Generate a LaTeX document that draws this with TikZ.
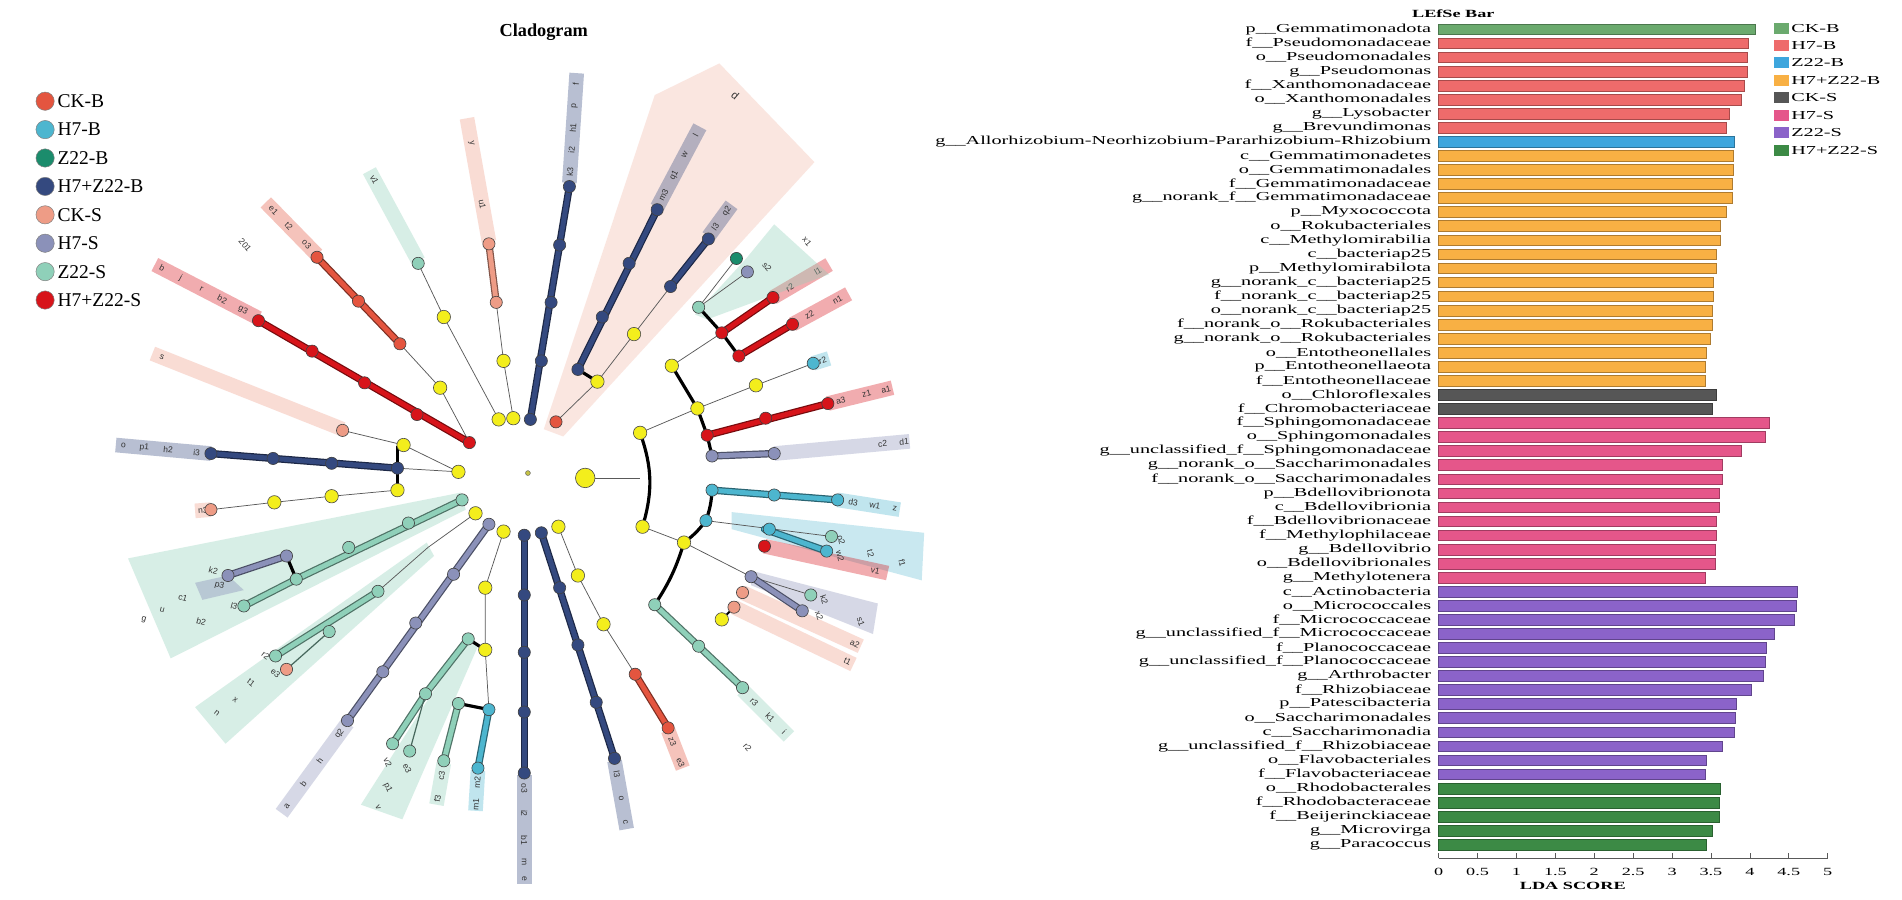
\documentclass[tikz,border=0pt]{standalone}
\usepackage{fontspec}
\setmainfont{Liberation Serif}
\newfontfamily\labf{Liberation Sans}
\definecolor{CKB}{HTML}{E4553F}
\definecolor{H7B}{HTML}{4DB6CF}
\definecolor{ZB}{HTML}{1B8C6C}
\definecolor{HZB}{HTML}{34497F}
\definecolor{CKS}{HTML}{EE9C86}
\definecolor{H7S}{HTML}{8B91B9}
\definecolor{ZS}{HTML}{8FD0B9}
\definecolor{HZS}{HTML}{D7141A}
\definecolor{yel}{HTML}{F3EE1C}
\definecolor{bCKB}{HTML}{6BAA6E}
\definecolor{bH7B}{HTML}{EE6B6B}
\definecolor{bZB}{HTML}{3EA6DD}
\definecolor{bHZB}{HTML}{F8B044}
\definecolor{bCKS}{HTML}{565656}
\definecolor{bH7S}{HTML}{E5568A}
\definecolor{bZS}{HTML}{8B63C9}
\definecolor{bHZS}{HTML}{3C8A45}
\tikzset{
 cnode/.style={circle,draw=black!75,line width=0.5pt,inner sep=0pt,minimum size=10pt},
 ynode/.style={circle,draw=black!70,line width=0.5pt,fill=yel,inner sep=0pt,minimum size=#1},
 ynode/.default=11pt,
 thinl/.style={draw=gray!70!black,line width=0.6pt},
 blk/.style={draw=black,line width=2.6pt},
 lab/.style={font=\labf\fontsize{7}{7}\selectfont,inner sep=0pt,text=black!80},
 blab/.style={anchor=east,font=\fontsize{10}{10}\selectfont,inner sep=0pt},
}
\newcommand\sx[1]{\scalebox{1.66}[1]{#1}}
\newcommand\brc[2]{\draw[line width=6pt,#1!55!black,line cap=round] #2; \draw[line width=4pt,#1,line cap=round] #2;}
\newcommand\cn[2]{\foreach \p in {#2} \node[cnode,fill=#1] at \p {};}
\newcommand\yn[1]{\foreach \p in {#1} \node[ynode] at \p {};}
\newcommand\band[4]{\draw[line width=12pt,#1,opacity=.35] #2 -- #3;
 \foreach \q/\t in {#4} \path #2 -- #3 node[pos=\q,sloped,lab]{\t};}
\begin{document}
\begin{tikzpicture}[x=1pt,y=-1pt]
\useasboundingbox (0,0) rectangle (1560,738);
\fill[white] (0,0) rectangle (1560,738);
%================ CLADOGRAM =================
\node[font=\bfseries\fontsize{15}{15}\selectfont] at (446,26) {Cladogram};
% legend
\foreach \c/\t [count=\i from 0] in {CKB/CK-B,H7B/H7-B,ZB/Z22-B,HZB/H7+Z22-B,CKS/CK-S,H7S/H7-S,ZS/Z22-S,HZS/H7+Z22-S}{
 \node[circle,draw=black!50,fill=\c,inner sep=0pt,minimum size=15pt] at (37,83+23.3*\i) {};
 \node[anchor=west,font=\fontsize{16}{16}\selectfont,inner sep=0pt] at (47,83+23.3*\i) {\t};
}
% pink sector d
\fill[CKS,opacity=.25] (446,352) -- (537,78) -- (590,52) -- (668,133) -- (462,358) -- cycle;
\node[lab,font=\labf\fontsize{9}{9}\selectfont,rotate=-40] at (603,78) {d};
% bands
\band{HZB}{(467,150)}{(473,60)}{0.1/k3,0.3/i2,0.5/h1,0.7/p,0.9/f}
\band{HZB}{(539,170)}{(574,104)}{0.15/m3,0.4/q1,0.65/w,0.9/l}
\band{HZB}{(581,194)}{(600,168)}{0.3/l3,0.8/q2}
\band{CKS}{(401,198)}{(383,97)}{0.3/u1,0.8/y}
\band{ZS}{(343,214)}{(303,140)}{0.9/v1}
\band{CKB}{(260,209)}{(218,166)}{0.2/o3,0.55/t2,0.85/e1}
\band{HZS}{(212,261)}{(127,217)}{0.15/g3,0.35/b2,0.55/r,0.75/j,0.93/b}
\band{CKS}{(281,352)}{(125,290)}{0.95/s}
\band{HZB}{(173,372)}{(95,365)}{0.15/i3,0.45/h2,0.7/p1,0.92/o}
\band{CKS}{(173,418)}{(160,419)}{0.5/n3}
\fill[ZS,opacity=.35] (378,404) -- (105,458) -- (140,540) -- (382,418) -- cycle;
\fill[ZS,opacity=.35] (350,445) -- (160,580) -- (185,610) -- (356,456) -- cycle;
\fill[H7S,opacity=.4] (187,472) -- (160,478) -- (166,492) -- (200,484) -- cycle;
\foreach \t/\x/\y in {k2/175/468,p3/180/480,l3/192/497,b2/165/510,c1/150/490,u/133/500,g/118/508}{\node[lab,rotate=-15] at (\x,\y) {\t};}
\foreach \t/\x/\y in {r2/218/538,e3/226/552,t1/206/560,x/193/574,n/178/585}{\node[lab,rotate=-38] at (\x,\y) {\t};}
\band{H7S}{(285,593)}{(231,667)}{0.12/q2,0.42/h,0.67/b,0.92/a}
\fill[ZS,opacity=.35] (384,522) -- (296,660) -- (330,672) -- (392,530) -- cycle;
\foreach \t/\x/\y in {v2/318/625,e3/334/630,p1/318/646,v/310/662}{\node[lab,rotate=-65] at (\x,\y) {\t};}
\band{ZS}{(364,626)}{(358,660)}{0.3/c3,0.85/f3}
\band{H7B}{(392,632)}{(390,665)}{0.3/m2,0.85/m1}
\band{HZB}{(430,636)}{(430,725)}{0.12/o3,0.35/i2,0.6/b1,0.8/m,0.95/e}
\band{HZB}{(504,624)}{(514,680)}{0.2/l3,0.55/o,0.9/c}
\band{CKB}{(548,599)}{(560,630)}{0.3/z3,0.85/e3}
\band{ZS}{(609,566)}{(647,604)}{0.25/r3,0.6/k1,0.9/i}
\band{H7B}{(687,410)}{(738,418)}{0.25/d3,0.6/w1,0.92/z}
\fill[H7B,opacity=.3] (600,420) -- (758,437) -- (756,476) -- (600,434) -- cycle;
\band{HZS}{(627,448)}{(728,470)}{0.9/v1}
\foreach \t/\x/\y in {o2/690/443,w2/689/456,t2/714/454,f1/740/462}{\node[lab,rotate=-75] at (\x,\y) {\t};}
\fill[H7S,opacity=.35] (616,468) -- (720,495) -- (716,520) -- (616,480) -- cycle;
\band{CKS}{(609,486)}{(706,530)}{0.95/a2}
\band{CKS}{(602,498)}{(700,545)}{0.95/t1}
\foreach \t/\x/\y in {k2/676/492,x2/672/505,s1/706/510}{\node[lab,rotate=-70] at (\x,\y) {\t};}
\band{H7S}{(635,372)}{(746,362)}{0.8/c2,0.96/d1}
\band{HZS}{(679,331)}{(732,318)}{0.2/a3,0.6/z1,0.9/a1}
\band{H7B}{(667,298)}{(680,294)}{0.6/r2}
\band{HZS}{(634,244)}{(680,217)}{0.3/r2,0.8/l1}
\band{HZS}{(650,266)}{(696,241)}{0.3/z2,0.8/n1}
\fill[ZS,opacity=.35] (570,258) -- (612,212) -- (635,184) -- (680,225) -- (580,262) -- cycle;
\foreach \t/\x/\y in {r2/613,201,s2/629/219,x1/662/198}{\node[lab,rotate=-50] at (\x,\y) {\t};}
% thin lines
\draw[thinl] (456,346) -- (490,313) -- (520,274) -- (550,235);
\draw[thinl] (421,343) -- (413,296) -- (407,248);
\draw[thinl] (409,344) -- (364,260) -- (343,216);
\draw[thinl] (385,363) -- (361,318) -- (328,282);
\draw[thinl] (376,387) -- (331,365) -- (281,353);
\draw[thinl] (376,387) -- (326,384);
\draw[thinl] (326,402) -- (272,407) -- (225,412) -- (173,418);
\draw[thinl] (390,421) -- (351,449);
\draw[thinl] (413,436) -- (398,482) -- (398,533) -- (401,582);
\draw[thinl] (458,432) -- (474,472) -- (495,512) -- (521,553);
\draw[thinl] (480,392) -- (525,392);
\draw[thinl] (525,355) -- (572,335) -- (620,316) -- (667,298);
\draw[thinl] (551,300) -- (592,273);
\draw[thinl] (527,432) -- (561,445) -- (616,473);
\draw[thinl] (579,427) -- (682,440);
\draw[thinl] (616,473) -- (665,488);
\draw[thinl] (573,252) -- (604,212);
\draw[thinl] (573,252) -- (613,223);
\draw[thinl] (351,449) -- (310,485);
% black thick connectors
\draw[blk] (474,303) -- (490,313);
\draw[blk] (525,355) to[bend left=18] (527,432);
\draw[blk] (551,300) -- (572,335) -- (580,357) -- (584,374);
\draw[blk] (573,252) -- (592,273) -- (606,292);
\draw[blk] (584,402) to[bend left=8] (579,427) to[bend left=8] (561,445) to[bend left=8] (537,496);
\draw[blk] (326,366) -- (326,402);
\draw[blk] (235,456) -- (243,475);
\draw[blk] (398,533) -- (384,524);
\draw[blk] (376,577) -- (401,582);
\draw[blk,line width=1.6pt] (602,498) -- (592,508);
% coloured branches
\brc{HZB}{(435,344)--(467,153)} \cn{HZB}{(435,344),(444,296),(452,248),(459,201),(467,153)}
\brc{HZB}{(474,303)--(539,172)} \cn{HZB}{(474,303),(494,260),(516,216),(539,172)}
\brc{HZB}{(550,235)--(581,196)} \cn{HZB}{(550,235),(581,196)}
\cn{CKB}{(456,346)}
\brc{CKS}{(407,248)--(401,200)} \cn{CKS}{(407,248),(401,200)}
\cn{ZS}{(343,216)}
\brc{CKB}{(328,282)--(260,211)} \cn{CKB}{(328,282),(294,247),(260,211)}
\brc{HZS}{(385,363)--(212,263)} \cn{HZS}{(385,363),(342,340),(299,314),(256,288),(212,263)}
\cn{CKS}{(281,353)}
\brc{HZB}{(326,384)--(173,372)} \cn{HZB}{(326,384),(272,380),(224,376),(173,372)}
\cn{CKS}{(173,418)}
\brc{ZS}{(379,410)--(243,475)} \brc{ZS}{(243,475)--(200,497)} \cn{ZS}{(379,410),(335,429),(286,449),(243,475),(200,497)}
\brc{H7S}{(235,456)--(187,472)} \cn{H7S}{(235,456),(187,472)}
\brc{ZS}{(310,485)--(226,538)} \draw[ZS!50!black,line width=1pt] (270,518) -- (235,549);
\cn{ZS}{(310,485),(270,518),(226,538)} \cn{CKS}{(235,549)}
\brc{H7S}{(401,430)--(285,591)} \cn{H7S}{(401,430),(372,471),(341,511),(314,551),(285,591)}
\brc{ZS}{(384,524)--(349,569)} \brc{ZS}{(349,569)--(322,610)} \draw[ZS!50!black,line width=1pt] (349,569) -- (336,616);
\cn{ZS}{(384,524),(349,569),(322,610),(336,616)}
\brc{ZS}{(376,577)--(364,624)} \cn{ZS}{(376,577),(364,624)}
\brc{H7B}{(401,582)--(392,630)} \cn{H7B}{(401,582),(392,630)}
\brc{HZB}{(430,439)--(430,634)} \cn{HZB}{(430,439),(430,488),(430,535),(430,584),(430,634)}
\brc{HZB}{(444,437)--(504,622)} \cn{HZB}{(444,437),(459,482),(474,529),(489,576),(504,622)}
\brc{CKB}{(521,553)--(548,597)} \cn{CKB}{(521,553),(548,597)}
\brc{ZS}{(537,496)--(609,564)} \cn{ZS}{(537,496),(573,530),(609,564)}
\brc{H7B}{(584,402)--(687,410)} \cn{H7B}{(584,402),(635,406),(687,410)}
\brc{H7B}{(627,434)--(678,452)} \cn{H7B}{(579,427),(631,434),(678,452)} \cn{ZS}{(682,440)} \cn{HZS}{(627,448)}
\brc{H7S}{(616,473)--(658,501)} \cn{H7S}{(616,473),(658,501)} \cn{ZS}{(665,488)}
\cn{CKS}{(609,486),(602,498)}
\brc{H7S}{(584,374)--(635,372)} \cn{H7S}{(584,374),(635,372)}
\brc{HZS}{(580,357)--(679,331)} \cn{HZS}{(580,357),(628,343),(679,331)}
\cn{H7B}{(667,298)}
\brc{HZS}{(592,273)--(634,244)} \cn{HZS}{(592,273),(634,244)}
\brc{HZS}{(606,292)--(650,266)} \cn{HZS}{(606,292),(650,266)}
\cn{ZS}{(573,252)} \cn{ZB}{(604,212)} \cn{H7S}{(613,223)}
% yellow nodes
\yn{(490,313),(520,274),(421,343),(413,296),(409,344),(364,260),(361,318),(376,387),(331,365),(326,402),(272,407),(225,412),(390,421),(413,436),(398,482),(398,533),(458,432),(474,472),(495,512),(525,355),(527,432),(572,335),(620,316),(551,300),(561,445),(592,508)}
\node[ynode=16pt] at (480,392) {};
\node[circle,draw=black!60,fill=yel!60!gray,inner sep=0pt,minimum size=4pt] at (433,388) {};
%================ LEfSe BAR =================
\node[font=\bfseries\fontsize{9}{9}\selectfont] at (1192,11) {\sx{LEfSe Bar}};
\foreach \n/\v/\c [count=\i from 0] in {
p\_\_Gemmatimonadota/4.07/bCKB,
f\_\_Pseudomonadaceae/3.98/bH7B,
o\_\_Pseudomonadales/3.96/bH7B,
g\_\_Pseudomonas/3.96/bH7B,
f\_\_Xanthomonadaceae/3.93/bH7B,
o\_\_Xanthomonadales/3.89/bH7B,
g\_\_Lysobacter/3.74/bH7B,
g\_\_Brevundimonas/3.69/bH7B,
g\_\_Allorhizobium-Neorhizobium-Pararhizobium-Rhizobium/3.80/bZB,
c\_\_Gemmatimonadetes/3.79/bHZB,
o\_\_Gemmatimonadales/3.79/bHZB,
f\_\_Gemmatimonadaceae/3.77/bHZB,
g\_\_norank\_f\_\_Gemmatimonadaceae/3.77/bHZB,
p\_\_Myxococcota/3.70/bHZB,
o\_\_Rokubacteriales/3.62/bHZB,
c\_\_Methylomirabilia/3.62/bHZB,
c\_\_bacteriap25/3.57/bHZB,
p\_\_Methylomirabilota/3.57/bHZB,
g\_\_norank\_c\_\_bacteriap25/3.53/bHZB,
f\_\_norank\_c\_\_bacteriap25/3.53/bHZB,
o\_\_norank\_c\_\_bacteriap25/3.51/bHZB,
f\_\_norank\_o\_\_Rokubacteriales/3.51/bHZB,
g\_\_norank\_o\_\_Rokubacteriales/3.49/bHZB,
o\_\_Entotheonellales/3.44/bHZB,
p\_\_Entotheonellaeota/3.43/bHZB,
f\_\_Entotheonellaceae/3.43/bHZB,
o\_\_Chloroflexales/3.57/bCKS,
f\_\_Chromobacteriaceae/3.52/bCKS,
f\_\_Sphingomonadaceae/4.25/bH7S,
o\_\_Sphingomonadales/4.20/bH7S,
g\_\_unclassified\_f\_\_Sphingomonadaceae/3.89/bH7S,
g\_\_norank\_o\_\_Saccharimonadales/3.64/bH7S,
f\_\_norank\_o\_\_Saccharimonadales/3.64/bH7S,
p\_\_Bdellovibrionota/3.60/bH7S,
c\_\_Bdellovibrionia/3.60/bH7S,
f\_\_Bdellovibrionaceae/3.57/bH7S,
f\_\_Methylophilaceae/3.57/bH7S,
g\_\_Bdellovibrio/3.56/bH7S,
o\_\_Bdellovibrionales/3.55/bH7S,
g\_\_Methylotenera/3.43/bH7S,
c\_\_Actinobacteria/4.61/bZS,
o\_\_Micrococcales/4.60/bZS,
f\_\_Micrococcaceae/4.57/bZS,
g\_\_unclassified\_f\_\_Micrococcaceae/4.31/bZS,
f\_\_Planococcaceae/4.21/bZS,
g\_\_unclassified\_f\_\_Planococcaceae/4.20/bZS,
g\_\_Arthrobacter/4.17/bZS,
f\_\_Rhizobiaceae/4.02/bZS,
p\_\_Patescibacteria/3.82/bZS,
o\_\_Saccharimonadales/3.81/bZS,
c\_\_Saccharimonadia/3.80/bZS,
g\_\_unclassified\_f\_\_Rhizobiaceae/3.65/bZS,
o\_\_Flavobacteriales/3.44/bZS,
f\_\_Flavobacteriaceae/3.42/bZS,
o\_\_Rhodobacterales/3.62/bHZS,
f\_\_Rhodobacteraceae/3.61/bHZS,
f\_\_Beijerinckiaceae/3.60/bHZS,
g\_\_Microvirga/3.51/bHZS,
g\_\_Paracoccus/3.44/bHZS}{
 \pgfmathsetmacro\yy{24+11.53*\i}
 \fill[\c,draw=\c!70!black,line width=0.4pt] (1180,\yy-4.4) rectangle (1180+63.8*\v,\yy+4.4);
 \node[blab] at (1174,\yy) {\sx{\n}};
}
% axis
\draw[line width=0.6pt,gray!70!black] (1180,704) -- (1499,704);
\foreach \t [count=\k from 0] in {0,0.5,1,1.5,2,2.5,3,3.5,4,4.5,5}{
 \draw[line width=0.5pt,gray!70!black] (1180+31.9*\k,704) -- (1180+31.9*\k,700);
 \node[font=\fontsize{9}{9}\selectfont] at (1180+31.9*\k,715) {\sx{\t}};
}
\node[font=\bfseries\fontsize{9}{9}\selectfont] at (1290,727) {\sx{LDA SCORE}};
% legend
\foreach \c/\t [count=\i from 0] in {bCKB/CK-B,bH7B/H7-B,bZB/Z22-B,bHZB/H7+Z22-B,bCKS/CK-S,bH7S/H7-S,bZS/Z22-S,bHZS/H7+Z22-S}{
 \fill[\c] (1455,23+14.3*\i-4.5) rectangle (1467,23+14.3*\i+4.5);
 \node[anchor=west,font=\fontsize{10}{10}\selectfont,inner sep=0pt] at (1469,23+14.3*\i) {\sx{\t}};
}
\end{tikzpicture}
\end{document}
